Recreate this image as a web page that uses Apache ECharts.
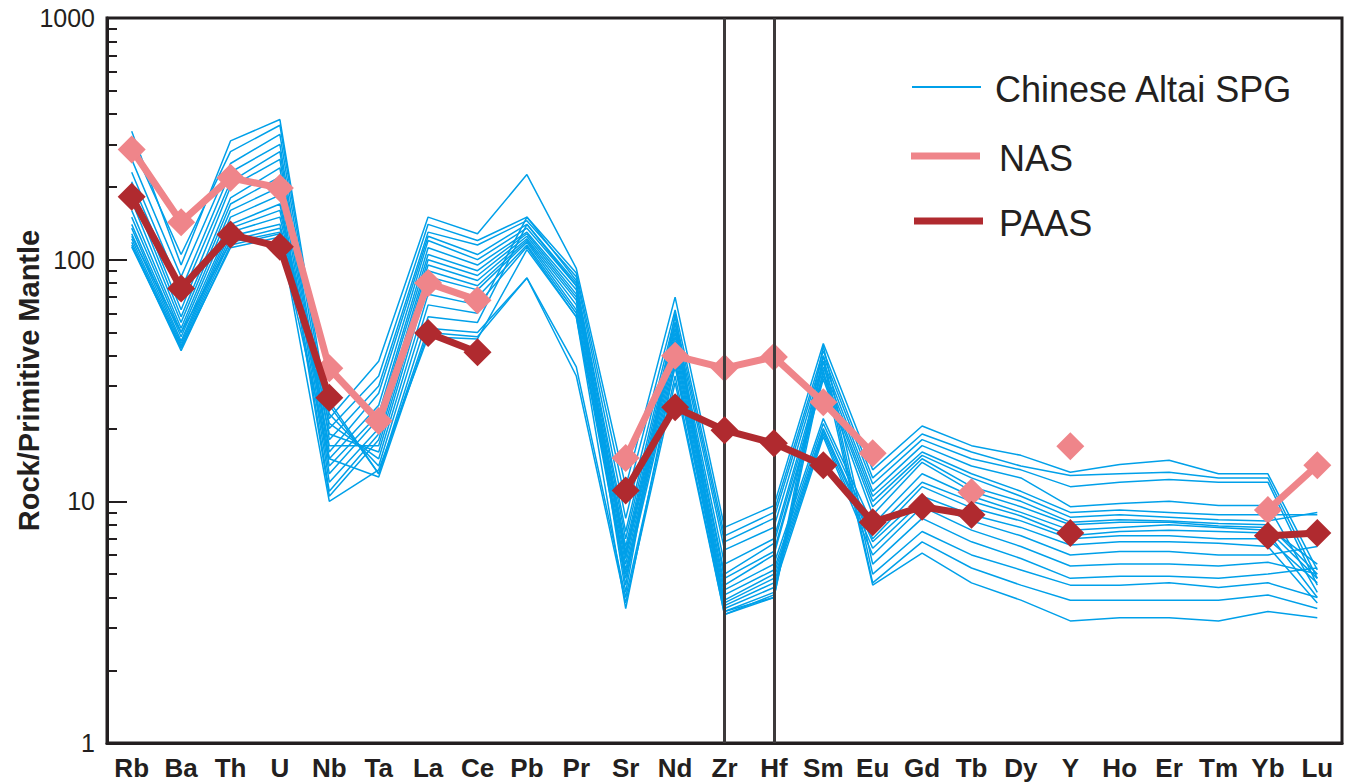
<!DOCTYPE html>
<html>
<head>
	<meta charset="utf-8" />
	<title>Rock/Primitive Mantle</title>
	<script src="https://cdn.jsdelivr.net/npm/echarts@6/dist/echarts.min.js"></script>
	<style>
		html, body { margin: 0; padding: 0; background: #fff; }
		#container { width: 1346px; height: 783px; }
	</style>
</head>
<body>
<div id="container"></div>
<script>
	// element order on the x axis
	var elements = ['Rb', 'Ba', 'Th', 'U', 'Nb', 'Ta', 'La', 'Ce', 'Pb', 'Pr', 'Sr', 'Nd', 'Zr',
		'Hf', 'Sm', 'Eu', 'Gd', 'Tb', 'Dy', 'Y', 'Ho', 'Er', 'Tm', 'Yb', 'Lu'];

	// reference compositions (null = not plotted)
	var nas  = [286, 143, 218, 198, 35.5, 21.5, 80, 68, null, null, 15.1, 40, 35.6, 39.6, 25.7, 15.8,
		null, 10.9, null, 16.9, null, null, null, 9.2, 14.1];
	var paas = [182, 76, 127, 113, 26.8, null, 49.7, 41.4, null, null, 11.1, 24.5, 19.7, 17.4, 14.1, 8.2,
		9.5, 8.8, null, 7.4, null, null, null, 7.2, 7.4];

	// Chinese Altai SPG samples
	var spg = [
		[340, 95, 310, 380, 22, 38, 150, 128, 225, 92, 11.5, 70, 7.8, 9.6, 45, 13.5, 20.5, 17, 15.5, 13.2, 14.2, 14.8, 13, 13, 5.2],
		[300, 105, 280, 360, 20, 33, 140, 120, 150, 88, 10, 62, 7.2, 9.0, 42, 12.5, 19, 16, 14, 12.8, 13, 13.2, 12.5, 12.5, 4.8],
		[260, 85, 250, 330, 18, 30, 130, 115, 145, 85, 8.5, 58, 6.8, 8.5, 40, 11.8, 18, 15, 13.5, 11.5, 12, 12.3, 12, 12, 4.5],
		[230, 75, 230, 300, 16, 28, 125, 105, 140, 80, 7.5, 55, 6.3, 7.8, 38, 11, 17, 14, 12.5, 9.5, 9.8, 10, 9.6, 9.6, 4.2],
		[210, 70, 210, 280, 15, 25, 120, 100, 135, 78, 7, 52, 5.5, 7.0, 36, 10.5, 16, 13, 11, 9, 9.2, 9.0, 8.8, 8.8, 8.8],
		[200, 62, 200, 260, 14, 23, 112, 95, 130, 75, 6.5, 50, 5.0, 6.7, 34, 10, 15.5, 12.5, 10.5, 8.6, 8.8, 8.6, 8.4, 8.3, 9.0],
		[190, 58, 180, 240, 13, 22, 105, 90, 128, 72, 6.2, 48, 4.8, 6.2, 33, 9.5, 15, 11.5, 10, 8.2, 8.4, 8.3, 8.1, 8.0, 5.0],
		[175, 55, 170, 220, 12, 20, 100, 86, 125, 70, 6, 46, 4.5, 6.0, 32, 8.8, 14.5, 11, 9.5, 8.0, 8.2, 8.2, 7.9, 7.8, 5.5],
		[160, 52, 160, 200, 11, 19, 95, 82, 122, 68, 5.8, 44, 4.3, 5.5, 22, 8.0, 13, 10.5, 9, 7.6, 7.8, 8.0, 7.8, 7.6, 4.8],
		[150, 50, 150, 185, 10.5, 18, 90, 78, 120, 65, 5.5, 42, 4.1, 5.2, 21, 7.5, 12, 10, 8.7, 7.2, 7.5, 7.6, 7.5, 7.4, 4.0],
		[140, 48, 140, 170, 17, 17, 85, 75, 118, 62, 5.2, 40, 3.9, 5.0, 20, 7.0, 11.5, 9.4, 8.3, 7.0, 7.2, 7.2, 7.0, 7.0, 4.6],
		[135, 46, 135, 160, 19, 16, 80, 70, 115, 60, 5.0, 38, 3.8, 4.8, 19.5, 6.8, 10.5, 8.8, 7.8, 6.6, 6.8, 6.8, 6.7, 6.5, 3.8],
		[128, 45, 130, 150, 21, 15, 72, 65, 113, 58, 4.8, 36, 3.7, 4.6, 19, 6.4, 10, 8.3, 7.2, 6.0, 6.2, 6.2, 6.0, 6.0, 6.5],
		[122, 44, 125, 140, 23, 14, 65, 60, 150, 82, 4.5, 60, 3.6, 4.4, 18.5, 6.0, 9.5, 7.6, 6.5, 5.4, 5.5, 5.5, 5.4, 5.6, 5.0],
		[118, 43, 120, 135, 25, 13, 58, 55, 140, 78, 4.2, 55, 3.5, 4.2, 44, 5.5, 8.5, 6.8, 5.8, 4.8, 4.9, 4.9, 4.8, 5.0, 5.3],
		[115, 42, 115, 128, 26, 13, 52, 50, 84, 36, 4.0, 33, 3.4, 4.1, 40, 5.0, 7.5, 6.0, 5.2, 4.5, 4.5, 4.6, 4.4, 4.6, 4.0],
		[113, 43, 112, 124, 15, 12.6, 50, 48, 84, 33, 3.8, 31, 3.4, 4.0, 38, 4.6, 6.8, 5.3, 4.5, 3.9, 3.9, 3.9, 3.9, 4.1, 3.6],
		[125, 50, 118, 130, 10, 13.5, 48, 47, 110, 58, 3.6, 37, 3.5, 4.0, 35, 4.5, 6.1, 4.6, 3.9, 3.2, 3.3, 3.3, 3.2, 3.5, 3.3]
	];

	var dividers = ['Zr', 'Hf'];
	var legendNames = ['Chinese Altai SPG', 'NAS', 'PAAS'];

	var ink = '#231F20';
	var blue = '#00A0E9', pink = '#EF858A', darkRed = '#B02A2F';
	var sans = '"Liberation Sans", Arial, sans-serif';

	var chart = echarts.init(document.getElementById('container'), null, {renderer: 'svg'});

	var series = spg.map(function (row, i) {
		var s = {
			name: legendNames[0],
			type: 'line',
			data: row,
			symbol: 'none',
			lineStyle: {color: blue, width: 1.5},
			z: 2
		};
		if (i === 0) {
			s.markLine = {
				silent: true,
				symbol: 'none',
				label: {show: false},
				lineStyle: {color: '#3d3a3b', width: 3, type: 'solid'},
				data: dividers.map(function (d) { return {xAxis: d}; })
			};
		}
		return s;
	});

	series.push({
		name: legendNames[1],
		type: 'line',
		data: nas,
		symbol: 'diamond',
		symbolSize: 28,
		itemStyle: {color: pink},
		lineStyle: {color: pink, width: 7},
		z: 4
	});
	series.push({
		name: legendNames[2],
		type: 'line',
		data: paas,
		symbol: 'diamond',
		symbolSize: 28,
		itemStyle: {color: darkRed},
		lineStyle: {color: darkRed, width: 7},
		z: 5
	});

	// legend drawn by hand: three line samples with labels
	var legendRows = [
		{y: 87, color: blue, width: 2, x1: 912, x2: 981, tx: 995},
		{y: 156, color: pink, width: 7, x1: 911, x2: 980, tx: 999},
		{y: 221, color: darkRed, width: 7, x1: 914, x2: 983, tx: 999}
	];
	var graphic = [];
	legendRows.forEach(function (r, i) {
		graphic.push({
			type: 'line',
			shape: {x1: r.x1, y1: r.y, x2: r.x2, y2: r.y},
			style: {stroke: r.color, lineWidth: r.width},
			z: 10
		});
		graphic.push({
			type: 'text',
			x: r.tx,
			y: r.y + 2,
			style: {
				text: legendNames[i],
				fill: ink,
				font: '36px ' + sans,
				verticalAlign: 'middle'
			},
			z: 10
		});
	});

	var options = {
		animation: false,
		backgroundColor: '#fff',
		grid: {
			left: 107, right: 4, top: 18, bottom: 40,
			containLabel: false,
			outerBoundsMode: 'none',
			show: true,
			borderColor: ink,
			borderWidth: 3
		},
		xAxis: {
			type: 'category',
			data: elements,
			boundaryGap: true,
			axisLine: {lineStyle: {color: ink, width: 3}},
			axisTick: {alignWithLabel: true, length: 8, lineStyle: {color: ink, width: 2}},
			axisLabel: {
				interval: 0,
				margin: 12,
				color: ink,
				fontSize: 26,
				fontWeight: 'bold',
				fontFamily: sans
			},
			splitLine: {show: false}
		},
		yAxis: {
			type: 'log',
			logBase: 10,
			min: 1,
			max: 1000,
			name: 'Rock/Primitive Mantle',
			nameLocation: 'middle',
			nameGap: 64,
			nameMoveOverlap: false,
			nameTextStyle: {
				color: ink,
				fontSize: 29,
				fontWeight: 'bold',
				fontFamily: sans
			},
			axisLine: {show: true, lineStyle: {color: ink, width: 3}},
			axisTick: {show: true, inside: true, length: 20, lineStyle: {color: ink, width: 2}},
			minorTick: {show: true, splitNumber: 9, length: 10, lineStyle: {color: ink, width: 2}},
			axisLabel: {
				margin: 12,
				color: ink,
				fontSize: 25,
				fontFamily: sans,
				formatter: function (v) { return String(v); }
			},
			splitLine: {show: false},
			minorSplitLine: {show: false}
		},
		graphic: graphic,
		series: series
	};

	chart.setOption(options);
</script>
</body>
</html>
